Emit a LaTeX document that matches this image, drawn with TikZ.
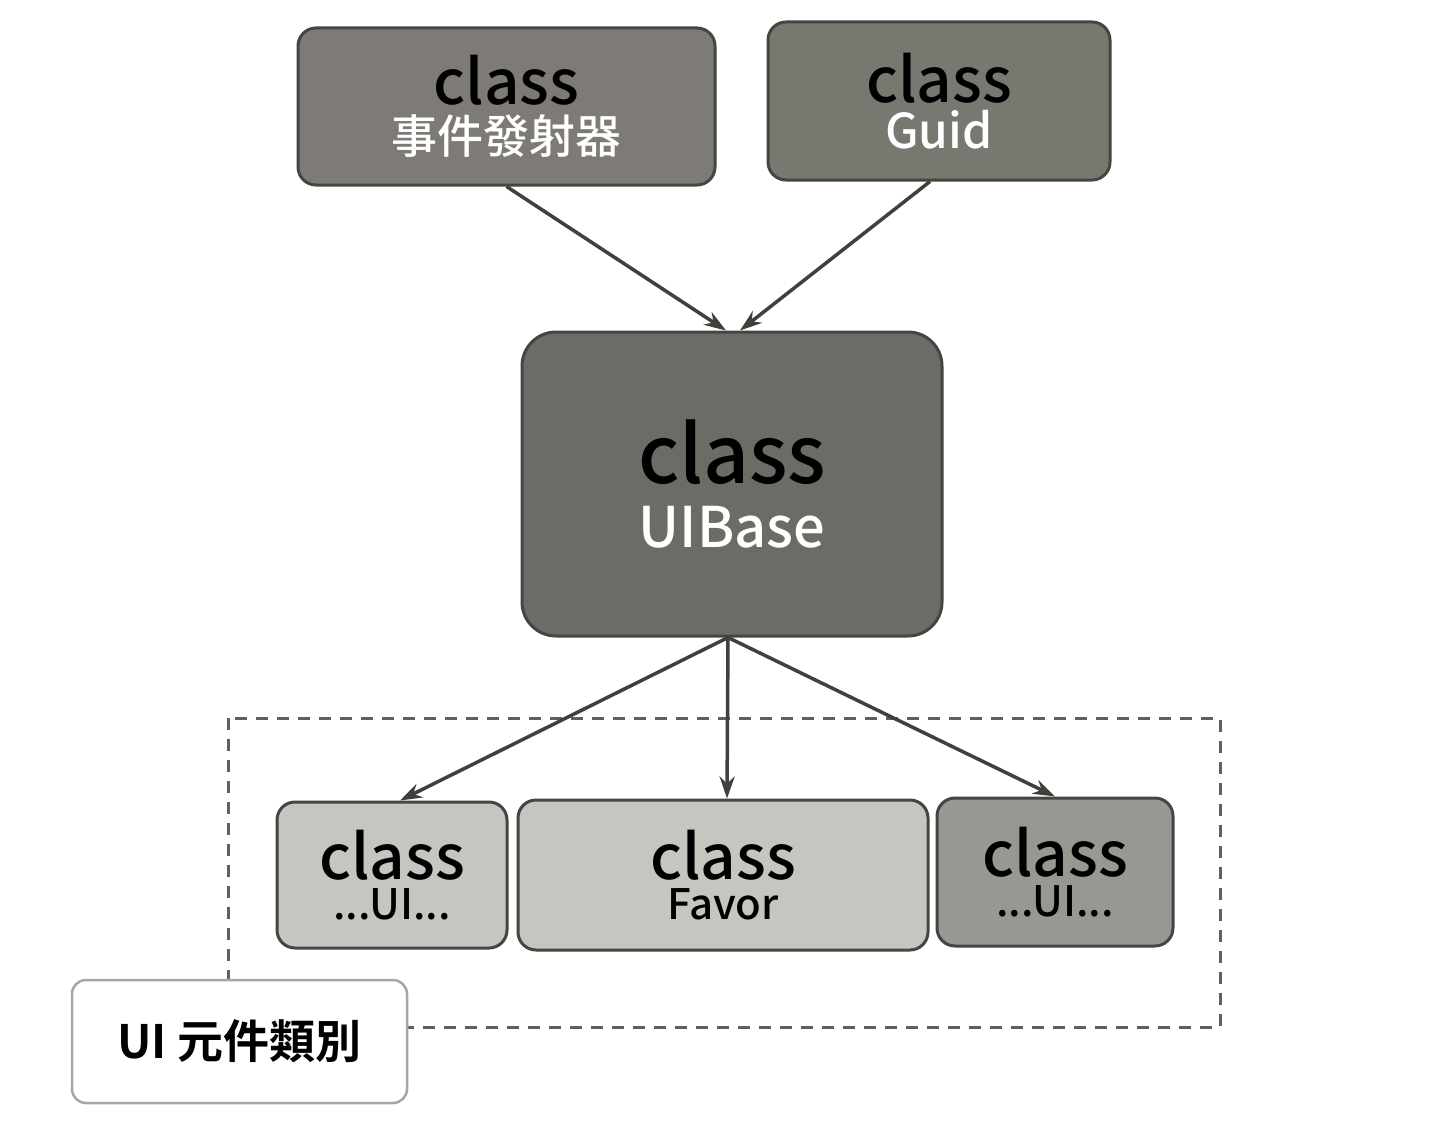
\documentclass[tikz,border=0pt]{standalone}
\usepackage{fontspec}
\setmainfont{Noto Sans CJK TC}[BoldFont={Noto Sans CJK TC Medium}]
\newfontfamily\heavyfont{Noto Sans CJK TC Bold}
\usetikzlibrary{arrows.meta}

\definecolor{boxline}{RGB}{68,70,66}
\definecolor{topfill}{RGB}{126,123,119}
\definecolor{guidfill}{RGB}{118,121,112}
\definecolor{basefill}{RGB}{106,109,101}
\definecolor{lightfill}{RGB}{198,198,193}
\definecolor{midfill}{RGB}{152,152,147}
\definecolor{arrowline}{RGB}{62,66,60}
\definecolor{dashline}{RGB}{95,95,95}

\tikzset{
  classbox/.style={draw=boxline, line width=3pt, rounded corners=18pt, align=center, inner sep=0pt, font=\bfseries},
  link/.style={draw=arrowline, line width=3.5pt, -{Stealth[length=22pt,width=15pt]}},
}

\begin{document}
\begin{tikzpicture}[x=1pt,y=1pt,yscale=-1,xscale=1]
\useasboundingbox (0,0) rectangle (1438,1140);
\fill[white] (0,0) rectangle (1438,1140);

%Shape: Dashed Rect
\draw [dashline, line width=3pt, dash pattern={on 12pt off 9pt}] (228,718) rectangle (1220,1027);

%Shape: Rounded Rect
\node [classbox, fill=topfill, minimum width=417pt, minimum height=157pt] (emitter) at (506.5,106.5)
  {\fontsize{62}{62}\selectfont class\\[8pt]\fontsize{46}{50}\selectfont\color{white}事件發射器};
%Shape: Rounded Rect
\node [classbox, fill=guidfill, minimum width=342pt, minimum height=158pt] (guid) at (939,101)
  {\fontsize{62}{62}\selectfont class\\[6pt]\fontsize{48}{50}\selectfont\color{white}Guid};
%Shape: Rounded Rect
\node [classbox, fill=basefill, rounded corners=34pt, minimum width=420pt, minimum height=304pt] (uibase) at (732,484)
  {\fontsize{80}{80}\selectfont class\\[20pt]\fontsize{56}{60}\selectfont\color{white}UIBase};
%Shape: Rounded Rect
\node [classbox, fill=lightfill, minimum width=230pt, minimum height=146pt] (uileft) at (392,875)
  {\fontsize{62}{58}\selectfont class\\[8pt]\fontsize{42}{44}\selectfont ...UI...};
%Shape: Rounded Rect
\node [classbox, fill=lightfill, minimum width=410pt, minimum height=150pt] (favor) at (723,875)
  {\fontsize{62}{58}\selectfont class\\[8pt]\fontsize{42}{44}\selectfont Favor};
%Shape: Rounded Rect
\node [classbox, fill=midfill, minimum width=236pt, minimum height=148pt] (uiright) at (1055,872)
  {\fontsize{62}{58}\selectfont class\\[8pt]\fontsize{42}{44}\selectfont ...UI...};

% Text Node
\node [draw=gray!70, line width=2.5pt, fill=white, rounded corners=14pt, minimum width=335pt, minimum height=123pt, inner sep=0pt] (category) at (239.5,1041.5)
  {\fontsize{46}{50}\selectfont\heavyfont UI 元件類別};

%Straight Lines
\draw [link] (emitter.south) -- ([xshift=-6pt]uibase.north);
\draw [link] ([xshift=-9pt]guid.south) -- ([xshift=8pt]uibase.north);
\draw [link] ([xshift=-4pt]uibase.south) -- ([xshift=8pt]uileft.north);
\draw [link] ([xshift=-4pt]uibase.south) -- ([xshift=4pt]favor.north);
\draw [link] ([xshift=-4pt]uibase.south) -- (uiright.north);

\end{tikzpicture}
\end{document}
